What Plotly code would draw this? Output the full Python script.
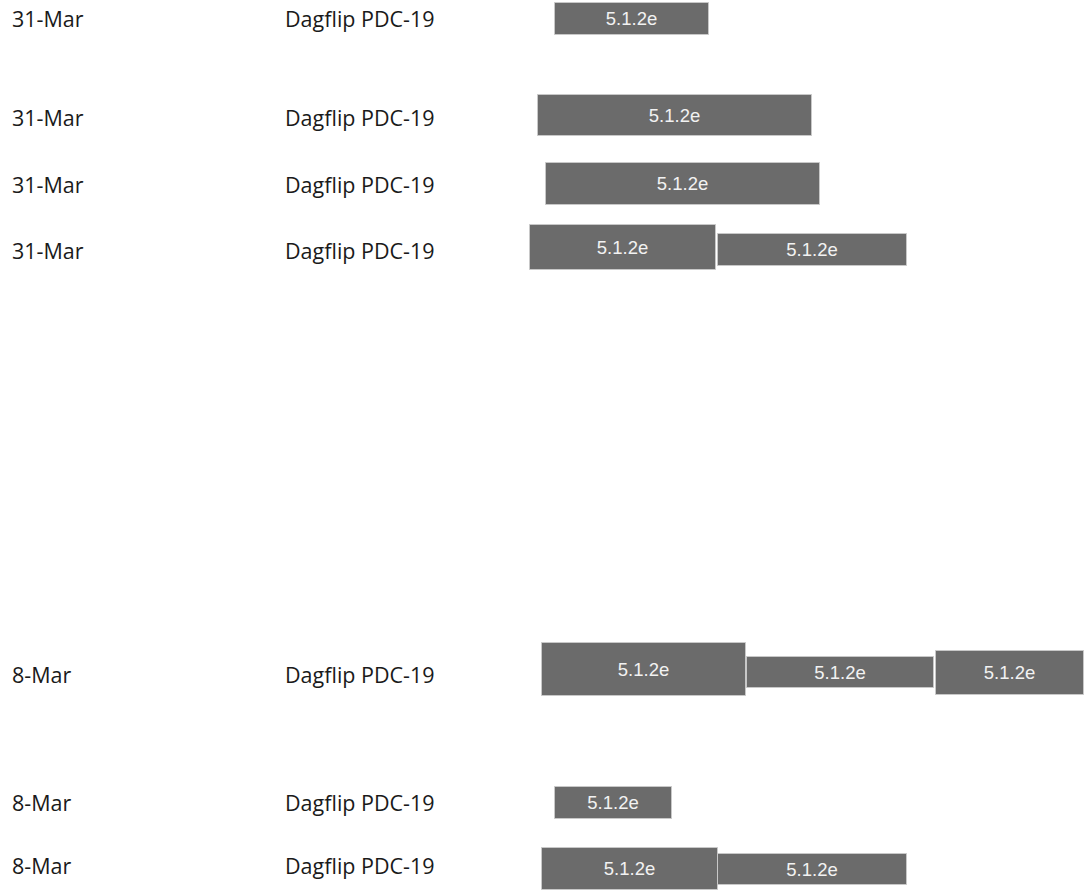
import plotly.graph_objects as go

# Row labels (left columns)
row_dates = ["31-Mar", "31-Mar", "31-Mar", "31-Mar", "8-Mar", "8-Mar", "8-Mar"]
row_products = ["Dagflip PDC-19"] * 7
row_y = [22, 121, 188, 254, 678, 806, 869]

# Redaction boxes (page pixel units)
box_left = [555, 538, 546, 530, 718, 542, 747, 936, 555, 542, 718]
box_right = [709, 812, 820, 716, 907, 746, 934, 1084, 672, 718, 907]
box_top = [3, 95, 163, 225, 234, 643, 657, 651, 787, 848, 854]
box_bottom = [35, 136, 205, 270, 266, 696, 688, 695, 819, 890, 885]
box_text = ["5.1.2e"] * len(box_left)

fig = go.Figure()

fig.add_trace(go.Bar(
    orientation="h",
    base=box_left,
    x=[r - l for l, r in zip(box_left, box_right)],
    y=[(t + b) / 2 for t, b in zip(box_top, box_bottom)],
    width=[b - t for t, b in zip(box_top, box_bottom)],
    text=box_text,
    textposition="inside",
    insidetextanchor="middle",
    constraintext="none",
    textfont=dict(family="Liberation Sans", size=18.5, color="#f2f2f2"),
    marker=dict(color="#6b6b6b", line=dict(color="#c8c8c8", width=1)),
    hoverinfo="skip",
    showlegend=False,
    cliponaxis=False,
))

fig.add_trace(go.Scatter(
    x=[12] * len(row_dates), y=row_y, text=row_dates,
    mode="text", textposition="middle right",
    textfont=dict(family="Open Sans", size=21.5, color="#1a1a1a"),
    hoverinfo="skip", showlegend=False, cliponaxis=False,
))
fig.add_trace(go.Scatter(
    x=[285] * len(row_products), y=row_y, text=row_products,
    mode="text", textposition="middle right",
    textfont=dict(family="Open Sans", size=21.5, color="#1a1a1a"),
    hoverinfo="skip", showlegend=False, cliponaxis=False,
))

fig.update_layout(
    width=1084, height=891,
    margin=dict(l=0, r=0, t=0, b=0),
    paper_bgcolor="white", plot_bgcolor="white",
    xaxis=dict(range=[0, 1084], visible=False, fixedrange=True),
    yaxis=dict(range=[891, 0], visible=False, fixedrange=True),
    bargap=0,
)

fig.write_html(
    "out.html",
    config={"displayModeBar": False},
    post_script="document.body.style.margin='0px';",
)
